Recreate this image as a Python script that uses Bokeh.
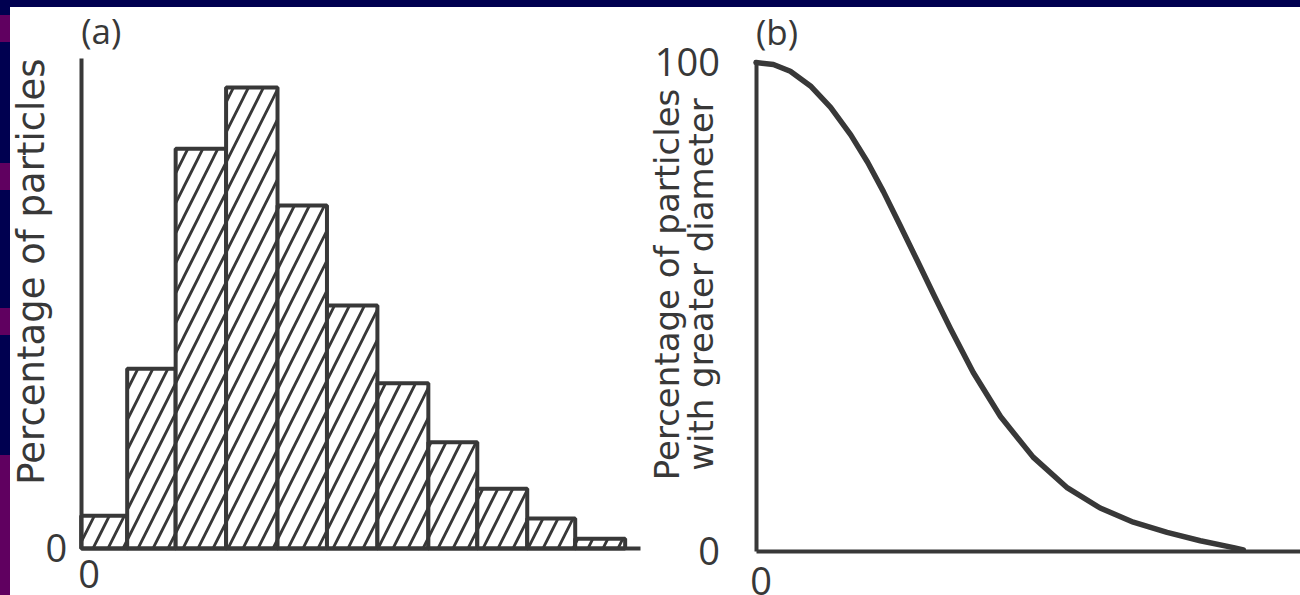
import math
from bokeh.plotting import figure
from bokeh.models import FixedTicker, Label, Range1d, Spacer
from bokeh.layouts import row, column
from bokeh.embed import file_html
from bokeh.resources import INLINE

# ---- data: panel (a) histogram ----
bin_left = [0.0, 0.93, 1.91, 2.93, 3.97, 4.97, 5.99, 7.02, 8.01, 9.02, 9.99]
bin_right = [0.93, 1.91, 2.93, 3.97, 4.97, 5.99, 7.02, 8.01, 9.02, 9.99, 11.0]
pct_particles = [6.7, 36.7, 81.6, 94.1, 70.0, 49.6, 33.7, 21.7, 12.2, 6.1, 2.0]
a_y_ticks = [0]

# ---- data: panel (b) cumulative curve ----
diameter = [0.0, 3.2, 6.3, 10.0, 13.7, 17.4, 20.5, 23.4, 26.5, 29.7, 32.6, 35.7,
            39.9, 44.9, 50.9, 57.2, 63.2, 69.3, 75.5, 81.6, 87.7, 89.5]
pct_greater = [100.0, 99.6, 98.2, 95.2, 90.8, 85.2, 79.6, 73.6, 66.6, 59.3, 52.6, 45.6,
               36.6, 27.6, 19.3, 13.0, 8.9, 6.0, 3.9, 2.2, 0.8, 0.3]
b_y_ticks = [0, 100]

INK = "#383838"
NAVY = "#000050"
PURPLE = "#600060"
FONT = "Open Sans"
LABEL_FONT = "DejaVu Sans"

H = 588  # white picture height below the slide's top band


def make_fig(width, xr, yr):
    p = figure(width=width, height=H, x_range=Range1d(*xr), y_range=Range1d(*yr),
               output_backend="svg", toolbar_location=None,
               min_border_left=0, min_border_right=0, min_border_top=0, min_border_bottom=0)
    p.grid.visible = False
    p.outline_line_color = None
    p.background_fill_color = "white"
    p.border_fill_color = "white"
    for ax in (p.xaxis[0], p.yaxis[0]):
        ax.fixed_location = 0
        ax.axis_line_width = 4
        ax.axis_line_color = INK
        ax.major_tick_line_color = None
        ax.minor_tick_line_color = None
        ax.major_tick_out = 0
        ax.major_tick_in = 0
        ax.major_label_text_font = FONT
        ax.major_label_text_font_size = "38px"
        ax.major_label_text_color = INK
    p.xaxis.ticker = FixedTicker(ticks=[])
    return p


def text(p, x, y, s, dx=0, dy=0, size="38px", align="center", baseline="middle",
         angle=0.0, font=FONT, lh=1.0):
    p.add_layout(Label(x=x, y=y, x_offset=dx, y_offset=dy, text=s, angle=angle,
                       text_font=font, text_font_size=size, text_color=INK,
                       text_line_height=lh, text_align=align, text_baseline=baseline))


# ---------------- panel (a) ----------------
p1 = make_fig(638, (-1.4297, 11.4722), (-9.592, 110.408))
p1.yaxis.ticker = FixedTicker(ticks=a_y_ticks)
p1.yaxis.major_label_standoff = 14
p1.yaxis.major_label_text_baseline = "alphabetic"
p1.yaxis.bounds = (0, 100)
p1.xaxis.bounds = (0, 11.31)

p1.quad(left=bin_left, right=bin_right, bottom=0, top=pct_particles,
        fill_color="white", line_color=INK, line_width=4,
        hatch_pattern="/", hatch_color=INK, hatch_weight=2.8, hatch_scale=30)

text(p1, 0, 100, "(a)", dx=0, dy=28, size="35px", align="left")
text(p1, 0, 0, "0", dx=8, dy=-12, baseline="top")
text(p1, 0, 56.5, "Percentage of particles", dx=-50, size="37px",
     angle=math.pi / 2, font=LABEL_FONT)

# ---------------- panel (b) ----------------
p2 = make_fig(652, (-19.743, 100.0), (-8.998, 111.247))
p2.yaxis.ticker = FixedTicker(ticks=b_y_ticks)
p2.yaxis.major_label_standoff = 36
p2.yaxis.bounds = (0, 100)
p2.xaxis.bounds = (0, 100)

p2.line(diameter, pct_greater, line_width=5.5, line_color=INK, line_cap="round", line_join="round")

text(p2, 0, 100, "(b)", dx=0, dy=31, size="35px", align="left")
text(p2, 0, 0, "0", dx=5, dy=-16, baseline="top")
text(p2, 0, 54.6, "Percentage of particles\nwith greater diameter", dx=-72,
     size="34px", angle=math.pi / 2, font=LABEL_FONT, lh=0.87)

# ---------------- slide frame (navy band + left strip) ----------------
strip = Spacer(width=10, height=595, styles={
    "background": (f"linear-gradient(to bottom, {NAVY} 0px, {NAVY} 15px, {PURPLE} 15px, {PURPLE} 42px, "
                   f"{NAVY} 42px, {NAVY} 163px, {PURPLE} 163px, {PURPLE} 190px, {NAVY} 190px, "
                   f"{NAVY} 308px, {PURPLE} 308px, {PURPLE} 335px, {NAVY} 335px, {NAVY} 455px, "
                   f"{PURPLE} 455px, {PURPLE} 595px)")})
top_band = Spacer(width=1290, height=7, styles={"background-color": NAVY})

layout = row(strip, column(top_band, row(p1, p2, spacing=0), spacing=0), spacing=0)
open("out.html", "w").write(file_html(layout, INLINE))
